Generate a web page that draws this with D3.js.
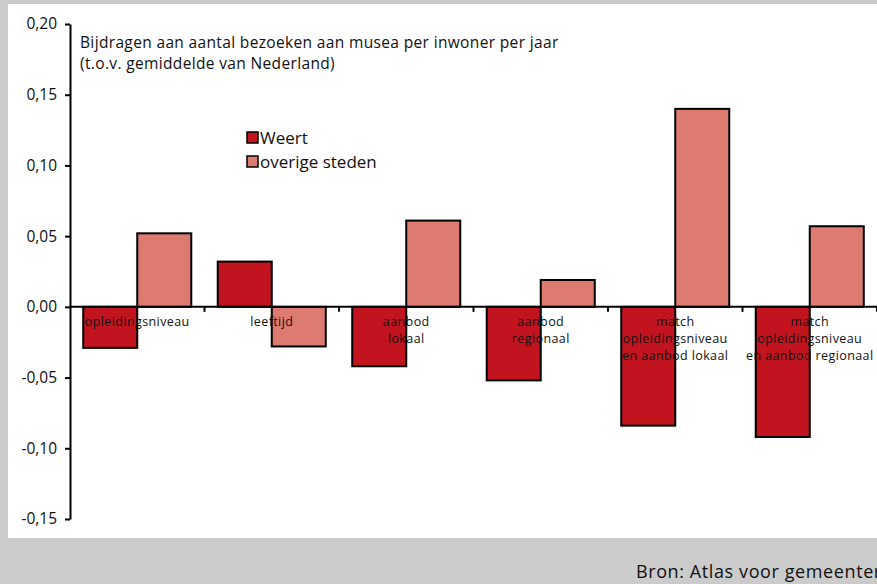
<!DOCTYPE html>
<html>
<head>
<meta charset="utf-8">
<script src="https://cdn.jsdelivr.net/npm/d3@7"></script>
<style>
  body { margin: 0; background: #cbcbcb; }
  svg { display: block; }
  text { font-family: "Open Sans", "Noto Sans", sans-serif; fill: #111; }
</style>
</head>
<body>
<div id="chart"></div>
<script>
var categories = [
    ["opleidingsniveau"],
    ["leeftijd"],
    ["aanbod", "lokaal"],
    ["aanbod", "regionaal"],
    ["match", "opleidingsniveau", "en aanbod lokaal"],
    ["match", "opleidingsniveau", "en aanbod regionaal"]
];
var weert = [-0.029, 0.032, -0.042, -0.052, -0.084, -0.092];
var overige = [0.052, -0.028, 0.061, 0.019, 0.140, 0.057];
var series_names = ["Weert", "overige steden"];
var series_colors = ["#c1141f", "#dd7b70"];
var y_ticks = [0.20, 0.15, 0.10, 0.05, 0.00, -0.05, -0.10, -0.15];

var svg_width = 877,
    svg_height = 584,
    axis_x = 70,
    axis_right = 877,
    y_top = 24,
    y_bottom = 519;

var svg = d3.select("#chart").append("svg")
    .attr("width", svg_width)
    .attr("height", svg_height);

// background panels
svg.append("rect").attr("x", 0).attr("y", 0).attr("width", svg_width).attr("height", svg_height).attr("fill", "#cbcbcb");
svg.append("rect").attr("x", 8).attr("y", 4).attr("width", svg_width - 8).attr("height", 534).attr("fill", "#ffffff");

var y = d3.scaleLinear().domain([-0.15, 0.20]).range([y_bottom, y_top]);
var x = d3.scaleBand().domain(d3.range(categories.length)).range([axis_x, axis_right]).paddingInner(0).paddingOuter(0);
var xs = d3.scaleBand().domain([0, 1]).range([0, x.bandwidth()]).paddingInner(0).paddingOuter(0.245);

var fmt = function (v) { return d3.format(".2f")(v).replace(".", ",").replace("−", "-"); };

// bars
var data = [weert, overige];
data.forEach(function (vals, s) {
    svg.selectAll(".bar" + s).data(vals).enter().append("rect")
        .attr("x", function (d, i) { return x(i) + xs(s); })
        .attr("y", function (d) { return y(Math.max(0, d)); })
        .attr("width", xs.bandwidth())
        .attr("height", function (d) { return Math.abs(y(d) - y(0)); })
        .attr("fill", series_colors[s])
        .attr("stroke", "#000")
        .attr("stroke-width", 2);
});

// y axis
var yAxis = d3.axisLeft(y).tickValues(y_ticks).tickSize(5).tickSizeOuter(0).tickFormat(fmt);
var gy = svg.append("g").attr("transform", "translate(" + axis_x + ",0)").call(yAxis);
gy.select(".domain").attr("stroke", "#000").attr("stroke-width", 2);
gy.selectAll(".tick line").attr("stroke", "#000").attr("stroke-width", 2);
gy.selectAll(".tick text").attr("font-size", 15.5).attr("x", -13)
    .style("font-family", "'Open Sans', sans-serif").attr("fill", "#111");

// x axis at zero
svg.append("line")
    .attr("x1", axis_x).attr("x2", axis_right)
    .attr("y1", y(0)).attr("y2", y(0))
    .attr("stroke", "#000").attr("stroke-width", 2);
svg.selectAll(".xtick").data(d3.range(1, categories.length + 1)).enter().append("line")
    .attr("x1", function (i) { return axis_x + i * x.step(); })
    .attr("x2", function (i) { return axis_x + i * x.step(); })
    .attr("y1", y(0)).attr("y2", y(0) + 5)
    .attr("stroke", "#000").attr("stroke-width", 2);

// category labels
categories.forEach(function (lines, i) {
    var t = svg.append("text")
        .attr("x", x(i) + x.bandwidth() / 2)
        .attr("y", y(0) + 19)
        .attr("text-anchor", "middle")
        .attr("font-size", 12.5)
        .attr("letter-spacing", 0.4);
    lines.forEach(function (l, k) {
        t.append("tspan").attr("x", x(i) + x.bandwidth() / 2).attr("dy", k ? 17 : 0).text(l);
    });
});

// title inside plot
svg.append("text").attr("x", 80).attr("y", 48).attr("font-size", 15.5).attr("letter-spacing", 0.35)
    .text("Bijdragen aan aantal bezoeken aan musea per inwoner per jaar");
svg.append("text").attr("x", 80).attr("y", 69).attr("font-size", 15.5).attr("letter-spacing", 0.35)
    .text("(t.o.v. gemiddelde van Nederland)");

// legend
series_names.forEach(function (n, s) {
    svg.append("rect")
        .attr("x", 247).attr("y", 132 + s * 24)
        .attr("width", 11).attr("height", 11)
        .attr("fill", series_colors[s]).attr("stroke", "#000").attr("stroke-width", 1.5);
    svg.append("text").attr("x", 260).attr("y", 144 + s * 24).attr("font-size", 17).text(n);
});

// source
svg.append("text").attr("x", 636).attr("y", 578).attr("font-size", 18).attr("letter-spacing", 0.6)
    .text("Bron: Atlas voor gemeenten");
</script>
</body>
</html>
